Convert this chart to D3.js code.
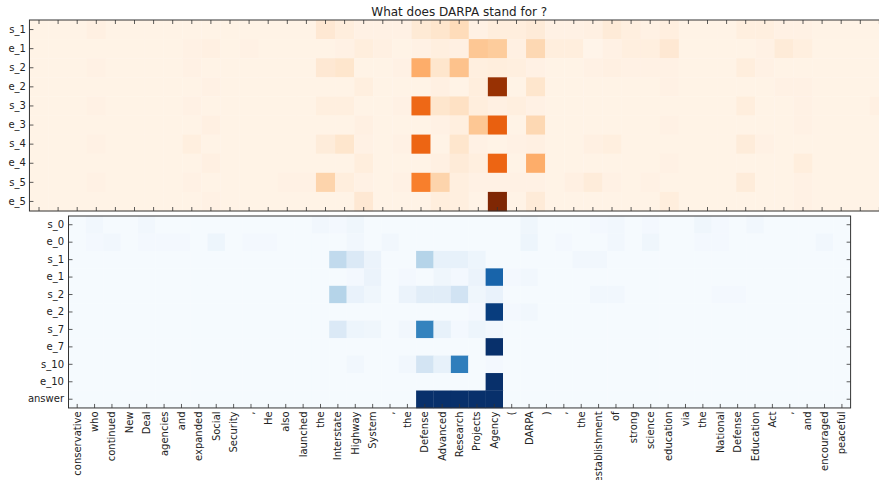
<!DOCTYPE html>
<html>
<head>
<meta charset="utf-8">
<script src="https://cdn.jsdelivr.net/npm/d3@7"></script>
<style>
  body { margin: 0; background: #fff; overflow: hidden; }
  svg text { font-family: "DejaVu Sans", sans-serif; fill: #222; }
</style>
</head>
<body>
<svg id="chart" width="879" height="480"></svg>
<script>
// Context tokens along the x axis (shared by both heatmaps)
const tokens = ["conservative", "who", "continued", "New", "Deal", "agencies", "and", "expanded",
  "Social", "Security", ",", "He", "also", "launched", "the", "Interstate", "Highway", "System",
  ",", "the", "Defense", "Advanced", "Research", "Projects", "Agency", "(", "DARPA", ")", ",",
  "the", "establishment", "of", "strong", "science", "education", "via", "the", "National",
  "Defense", "Education", "Act", ",", "and", "encouraged", "peaceful"];

const title = "What does DARPA stand for ?";

// Upper heatmap: pointer attention per step (Oranges)
const upperLabels = ["s_1", "e_1", "s_2", "e_2", "s_3", "e_3", "s_4", "e_4", "s_5", "e_5"];
const upS1 = [.02,.02,.02,.04,.02,.02,.02,.02,.02,.02, .02,.02,.02,.02,.02,.10,.06,.03,.03,.03, .09,.12,.18,.03,.06,.06,.08,.03,.03,.04, .08,.05,.03,.05,.02,.02,.02,.05,.05,.03, .03,.02,.02,.02,.02];
const upE1 = [.02,.02,.02,.02,.02,.02,.02,.02,.03,.04, .02,.03,.02,.02,.02,.02,.03,.06,.04,.02, .03,.05,.04,.28,.26,.04,.20,.06,.06,.01, .03,.05,.05,.10,.02,.02,.02,.02,.03,.08, .05,.02,.02,.02,.02];
const upS2 = [.02,.02,.02,.03,.02,.02,.02,.02,.03,.02, .02,.02,.02,.02,.02,.10,.12,.02,.02,.03, .38,.12,.30,.05,.06,.05,.03,.02,.02,.03, .04,.03,.03,.03,.02,.02,.02,.06,.03,.02, .02,.02,.02,.02,.02];
const upE2 = [.02,.02,.02,.02,.02,.02,.02,.02,.02,.03, .02,.02,.02,.02,.02,.02,.02,.05,.02,.02, .02,.04,.02,.06,.92,.02,.12,.02,.02,.02, .02,.02,.02,.03,.02,.02,.02,.02,.02,.03, .03,.02,.02,.02,.02];
const upS3 = [.02,.02,.02,.03,.02,.02,.02,.02,.03,.02, .02,.02,.02,.02,.02,.05,.05,.02,.02,.03, .63,.12,.15,.06,.04,.05,.03,.02,.02,.02, .02,.02,.02,.02,.02,.02,.02,.06,.02,.02, .03,.02,.02,.02,.04];
const upE3 = [.02,.02,.02,.02,.02,.02,.02,.02,.02,.04, .02,.02,.02,.02,.02,.02,.02,.04,.02,.02, .02,.03,.05,.28,.66,.02,.20,.02,.02,.02, .02,.02,.02,.03,.02,.02,.02,.02,.02,.02, .03,.02,.02,.02,.02];
const upS4 = [.02,.02,.02,.03,.02,.02,.02,.02,.05,.02, .02,.02,.02,.02,.02,.07,.12,.03,.02,.03, .64,.02,.12,.03,.02,.03,.04,.02,.02,.04, .05,.02,.02,.02,.02,.02,.02,.07,.03,.02, .02,.02,.02,.02,.02];
const upE4 = [.02,.02,.02,.02,.02,.02,.02,.02,.02,.04, .02,.02,.02,.02,.02,.02,.02,.06,.02,.02, .02,.04,.08,.05,.64,.02,.38,.02,.02,.02, .02,.02,.02,.03,.02,.02,.02,.02,.02,.02, .06,.02,.02,.02,.02];
const upS5 = [.02,.02,.02,.03,.02,.02,.02,.02,.03,.02, .02,.02,.02,.03,.03,.22,.06,.03,.02,.03, .55,.22,.05,.03,.03,.03,.03,.02,.04,.07, .03,.02,.03,.02,.02,.02,.02,.07,.02,.02, .03,.02,.02,.02,.02];
const upE5 = [.02,.02,.02,.02,.02,.02,.02,.02,.02,.03, .02,.02,.02,.02,.02,.02,.02,.10,.02,.02, .02,.06,.05,.02,1.0,.02,.08,.02,.02,.02, .02,.02,.02,.06,.02,.02,.02,.02,.02,.02, .03,.02,.02,.02,.02];

// Lower heatmap: span attention per hop plus the answer span (Blues)
const lowerLabels = ["s_0", "e_0", "s_1", "e_1", "s_2", "e_2", "s_7", "e_7", "s_10", "e_10", "answer"];
const loS0  = [.01,.03,.01,.01,.03,.01,.01,.01,.01,.01, .01,.01,.01,.01,.03,.02,.04,.01,.01,.01, .01,.01,.01,.01,.01,.01,.04,.01,.01,.01, .02,.03,.01,.02,.01,.01,.04,.02,.01,.03, .01,.01,.01,.01,.01];
const loE0  = [.01,.02,.03,.01,.02,.02,.02,.01,.05,.01, .02,.02,.01,.01,.01,.01,.03,.01,.03,.01, .01,.01,.01,.01,.01,.01,.05,.01,.02,.01, .01,.03,.01,.04,.01,.01,.02,.02,.01,.01, .01,.01,.01,.03,.01];
const loS1  = [.01,.01,.01,.01,.01,.01,.01,.01,.01,.01, .01,.01,.01,.01,.01,.26,.14,.06,.01,.01, .30,.08,.08,.05,.01,.01,.01,.01,.01,.03, .03,.01,.01,.01,.01,.01,.01,.01,.01,.01, .01,.01,.01,.01,.01];
const loE1  = [.01,.01,.01,.01,.01,.01,.01,.01,.01,.01, .01,.01,.01,.01,.01,.01,.02,.06,.01,.02, .01,.04,.02,.06,.80,.02,.03,.01,.01,.01, .01,.01,.01,.01,.01,.01,.01,.01,.01,.01, .01,.01,.01,.01,.01];
const loS2  = [.01,.01,.01,.01,.01,.01,.01,.01,.01,.01, .01,.01,.01,.01,.01,.30,.07,.04,.01,.06, .11,.11,.19,.04,.07,.01,.01,.01,.01,.01, .03,.03,.01,.01,.01,.01,.01,.02,.02,.01, .01,.01,.01,.01,.01];
const loE2  = [.01,.01,.01,.01,.01,.01,.01,.01,.01,.01, .01,.01,.01,.01,.01,.01,.01,.01,.01,.01, .01,.01,.01,.02,.95,.02,.03,.01,.01,.01, .01,.01,.01,.01,.01,.01,.01,.01,.01,.01, .01,.01,.01,.01,.01];
const loS7  = [.01,.01,.01,.01,.01,.01,.01,.01,.01,.01, .01,.01,.01,.01,.01,.14,.05,.04,.01,.03, .68,.08,.02,.05,.03,.01,.01,.01,.01,.01, .01,.01,.01,.01,.01,.01,.01,.01,.01,.01, .01,.01,.01,.01,.01];
const loE7  = [.01,.01,.01,.01,.01,.01,.01,.01,.01,.01, .01,.01,.01,.01,.01,.01,.01,.01,.01,.01, .01,.01,.01,.01,1.0,.01,.01,.01,.01,.01, .01,.01,.01,.01,.01,.01,.01,.01,.01,.01, .01,.01,.01,.01,.01];
const loS10 = [.01,.01,.01,.01,.01,.01,.01,.01,.01,.01, .01,.01,.01,.01,.01,.01,.03,.01,.01,.03, .18,.08,.70,.01,.02,.01,.01,.01,.01,.01, .01,.01,.01,.01,.01,.01,.01,.01,.01,.01, .01,.01,.01,.01,.01];
const loE10 = [.01,.01,.01,.01,.01,.01,.01,.01,.01,.01, .01,.01,.01,.01,.01,.01,.01,.01,.01,.01, .01,.01,.01,.01,1.0,.01,.01,.01,.01,.01, .01,.01,.01,.01,.01,.01,.01,.01,.01,.01, .01,.01,.01,.01,.01];
const loAns = [.01,.01,.01,.01,.01,.01,.01,.01,.01,.01, .01,.01,.01,.01,.01,.01,.01,.01,.01,.01, 1.0,1.0,1.0,1.0,1.0,.01,.01,.01,.01,.01, .01,.01,.01,.01,.01,.01,.01,.01,.01,.01, .01,.01,.01,.01,.01];

const upperValues = [upS1, upE1, upS2, upE2, upS3, upE3, upS4, upE4, upS5, upE5];
const lowerValues = [loS0, loE0, loS1, loE1, loS2, loE2, loS7, loE7, loS10, loE10, loAns];

const svg = d3.select("#chart");
const INK = "#333";

function heatmap({ left, top, cellW, cellH, labels, values, interpolator, xLabels, rightTicks, topTicks, labelPad }) {
  const cols = d3.range(tokens.length);
  const w = cellW * cols.length, h = cellH * labels.length;
  const x = d3.scaleBand().domain(cols).range([left, left + w]);
  const y = d3.scaleBand().domain(labels).range([top, top + h]);
  const color = d3.scaleSequential(interpolator).domain([0, 1]);

  const g = svg.append("g");
  const cells = labels.flatMap((r, i) => values[i].map((v, j) => ({ r, j, v })));
  g.append("g").selectAll("rect").data(cells).join("rect")
    .attr("x", d => x(d.j)).attr("y", d => y(d.r))
    .attr("width", x.bandwidth() + 0.3).attr("height", y.bandwidth() + 0.3)
    .attr("fill", d => color(d.v));

  const styleAxis = sel => {
    sel.select(".domain").remove();
    sel.selectAll(".tick line").attr("stroke", INK).attr("stroke-width", 0.8);
    sel.selectAll(".tick text").attr("font-size", 10).attr("fill", "#222")
      .style("font-family", "'DejaVu Sans', sans-serif");
  };

  // y axis, ticks pointing inward
  g.append("g").attr("transform", `translate(${left},0)`)
    .call(d3.axisLeft(y).tickSize(-4).tickPadding(labelPad))
    .call(styleAxis);
  if (rightTicks) {
    g.append("g").attr("transform", `translate(${left + w},0)`)
      .call(d3.axisRight(y).tickSize(-4).tickFormat(""))
      .call(styleAxis);
  }
  if (topTicks) {
    g.append("g").attr("transform", `translate(0,${top})`)
      .call(d3.axisTop(x).tickSize(-4).tickFormat(""))
      .call(styleAxis);
  }
  const bx = g.append("g").attr("transform", `translate(0,${top + h})`)
    .call(d3.axisBottom(x).tickSize(-4).tickFormat(xLabels ? (i => tokens[i]) : ""))
    .call(styleAxis);
  if (xLabels) {
    bx.selectAll(".tick text")
      .attr("transform", "rotate(-90)")
      .attr("x", -3.5).attr("y", 0).attr("dy", "0.35em")
      .attr("text-anchor", "end");
  }

  // frame
  g.append("rect").attr("x", left).attr("y", top).attr("width", w).attr("height", h)
    .attr("fill", "none").attr("stroke", INK).attr("stroke-width", 1);
  return { left, w };
}

const up = heatmap({
  left: 29.45, top: 20, cellW: 19.1, cellH: 19.1,
  labels: upperLabels, values: upperValues, interpolator: d3.interpolateOranges,
  xLabels: false, rightTicks: true, topTicks: true, labelPad: 3.5
});

heatmap({
  left: 68.5, top: 216, cellW: 17.38, cellH: 17.45,
  labels: lowerLabels, values: lowerValues, interpolator: d3.interpolateBlues,
  xLabels: true, rightTicks: true, topTicks: false, labelPad: 4.5
});

svg.append("text")
  .attr("x", up.left + up.w / 2).attr("y", 15.5)
  .attr("text-anchor", "middle").attr("font-size", 12)
  .text(title);
</script>
</body>
</html>
